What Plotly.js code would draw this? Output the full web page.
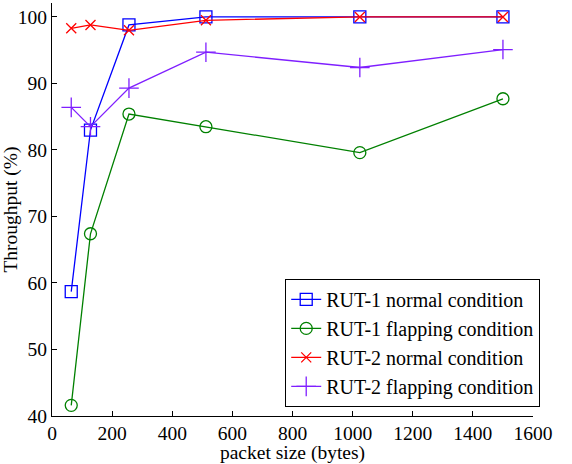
<!DOCTYPE html>
<html><head><meta charset="utf-8">
<script src="https://cdn.plot.ly/plotly-3.0.1.min.js"></script>
<style>html,body{margin:0;padding:0;background:#fff;}</style>
</head><body>
<div id="chart" style="width:572px;height:464px;"></div>
<script>
var packetSizes = [64, 128, 256, 512, 1024, 1500];
var rut1Normal = [58.7, 83.0, 98.8, 100, 100, 100];
var rut1Flapping = [41.6, 67.4, 85.4, 83.5, 79.6, 87.7];
var rut2Normal = [98.3, 98.8, 98.0, 99.5, 100, 100];
var rut2Flapping = [86.4, 83.5, 89.3, 94.7, 92.4, 95.1];
var seriesNames = ["RUT-1 normal condition", "RUT-1 flapping condition", "RUT-2 normal condition", "RUT-2 flapping condition"];
var xTicks = [0, 200, 400, 600, 800, 1000, 1200, 1400, 1600];
var yTicks = [40, 50, 60, 70, 80, 90, 100];

(function () {
  function tr(y, name, color, symbol, size) {
    return {x: packetSizes, y: y, name: name, type: 'scatter', mode: 'lines+markers',
      line: {color: color, width: 1.3},
      marker: {symbol: symbol, size: size, color: color, line: {color: color, width: 1.3}},
      cliponaxis: false};
  }
  var traces = [
    tr(rut1Normal, seriesNames[0], '#0000ff', 'square-open', 12),
    tr(rut1Flapping, seriesNames[1], '#008000', 'circle-open', 12),
    tr(rut2Normal, seriesNames[2], '#ff0000', 'x-thin-open', 10),
    tr(rut2Flapping, seriesNames[3], '#7f1fff', 'cross-thin-open', 14)
  ];
  var ff = 'Times New Roman';
  var sz = 19.5;
  var lay = {
    width: 572, height: 464,
    margin: {l: 52, r: 39, t: 3, b: 48},
    paper_bgcolor: '#fff', plot_bgcolor: '#fff',
    font: {family: ff, color: '#000', size: sz},
    showlegend: true,
    legend: {x: 1.015, xanchor: 'right', y: 0.332, yanchor: 'top',
      bordercolor: '#000', borderwidth: 1, bgcolor: '#fff', itemwidth: 30,
      font: {family: ff, size: 20, color: '#000'}},
    xaxis: {range: [0, 1600], tickvals: xTicks, ticktext: xTicks.map(String),
      ticks: 'inside', ticklen: 5, tickcolor: '#000', showgrid: false, zeroline: false,
      showline: true, linecolor: '#000', linewidth: 1,
      tickfont: {family: ff, size: sz, color: '#000'},
      title: {text: 'packet size (bytes)', font: {family: ff, size: sz, color: '#000'}, standoff: 5}},
    yaxis: {range: [40, 102.1], tickvals: yTicks, ticktext: yTicks.map(String),
      ticks: 'inside', ticklen: 5, tickcolor: '#000', showgrid: false, zeroline: false,
      showline: true, linecolor: '#000', linewidth: 1,
      tickfont: {family: ff, size: sz, color: '#000'},
      title: {text: 'Throughput (%)', font: {family: ff, size: sz, color: '#000'}, standoff: 4}}
  };
  Plotly.newPlot('chart', traces, lay, {staticPlot: true});
})();
</script>
</body></html>
